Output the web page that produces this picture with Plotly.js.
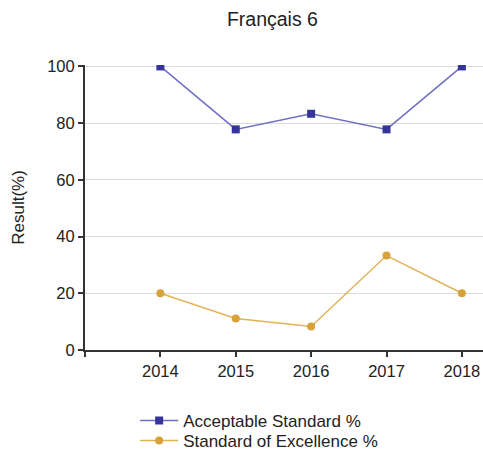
<!DOCTYPE html>
<html>
<head>
<meta charset="utf-8">
<script src="https://cdn.plot.ly/plotly-3.0.1.min.js"></script>
<style>html,body{margin:0;padding:0;background:#fff}#chart{width:483px;height:455px}</style>
</head>
<body>
<div id="chart"></div>
<script>
const years = [2014, 2015, 2016, 2017, 2018];
const acceptable = [100, 77.8, 83.3, 77.8, 100];
const excellence = [20, 11.1, 8.3, 33.3, 20];
const seriesNames = ["Acceptable Standard %", "Standard of Excellence %"];
const yTicks = [0, 20, 40, 60, 80, 100];

const traces = [
  {x: years, y: acceptable, name: seriesNames[0], type: 'scatter', mode: 'lines+markers', legend: 'legend',
   line: {color: '#6f6fc4', width: 1.5}, marker: {symbol: 'square', size: 8, color: '#34349c'}},
  {x: years, y: excellence, name: seriesNames[1], type: 'scatter', mode: 'lines+markers', legend: 'legend2',
   line: {color: '#e2b356', width: 1.5}, marker: {symbol: 'circle', size: 8, color: '#d7a23a'}}
];

const legendBase = {x: 0.126, xanchor: 'left', yanchor: 'middle', font: {size: 17, color: '#222'},
  bgcolor: 'rgba(0,0,0,0)', itemwidth: 38};

const layout = {
  width: 483, height: 455,
  margin: {l: 85, r: 0, t: 65, b: 105, autoexpand: false},
  paper_bgcolor: '#fff', plot_bgcolor: '#fff',
  font: {family: 'Liberation Sans, Arial, sans-serif', size: 16.5, color: '#222'},
  title: {text: 'Français 6', font: {size: 19.5, color: '#222'}, x: 0.564, xanchor: 'center', y: 0.957, yanchor: 'middle'},
  showlegend: true,
  legend: Object.assign({}, legendBase, {y: -0.249}),
  legend2: Object.assign({}, legendBase, {y: -0.319}),
  xaxis: {range: [2013, 2018.28], tickvals: [2013].concat(years), ticktext: [''].concat(years.map(String)),
    showgrid: false, zeroline: false, showline: true, linecolor: '#333', linewidth: 2,
    ticks: 'outside', ticklen: 5, tickcolor: '#333', tickwidth: 2, fixedrange: true},
  yaxis: {range: [0, 100.5], tickvals: yTicks, showgrid: true, gridcolor: '#dcdcdc', gridwidth: 1,
    zeroline: false, showline: true, linecolor: '#333', linewidth: 2,
    ticks: 'outside', ticklen: 5, tickcolor: '#333', tickwidth: 2,
    title: {text: 'Result(%)', font: {size: 17, color: '#222'}, standoff: 18}}
};

Plotly.newPlot('chart', traces, layout, {displayModeBar: false, staticPlot: true});
</script>
</body>
</html>
